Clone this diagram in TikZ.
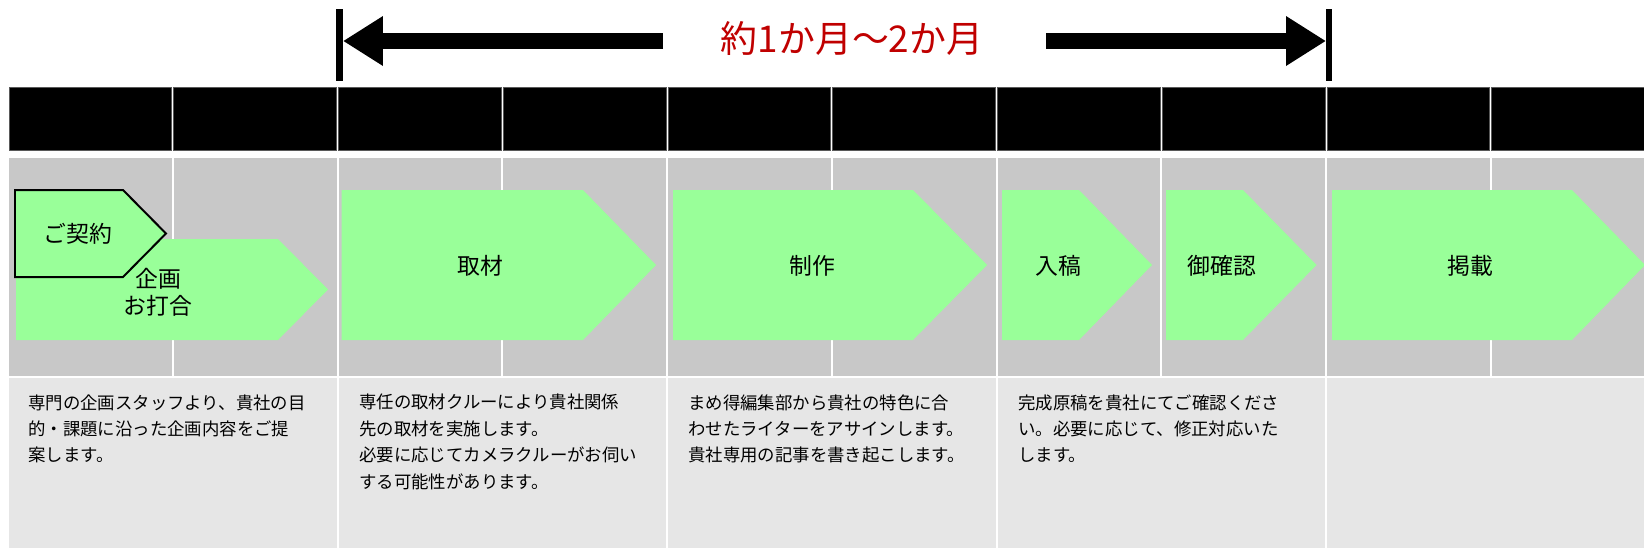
\documentclass[tikz,border=0pt]{standalone}
\usepackage{fontspec}
\setmainfont{Noto Sans CJK JP}
\usetikzlibrary{arrows.meta}
\definecolor{chevgreen}{RGB}{153,255,153}
\definecolor{cellgray}{RGB}{200,200,200}
\definecolor{notegray}{RGB}{230,230,230}
\definecolor{spanred}{RGB}{192,0,0}

\begin{document}
\begin{tikzpicture}[x=0.02cm,y=-0.02cm,
  stage/.style={font=\fontsize{13}{15.3}\selectfont,align=center,inner sep=0pt},
  note/.style={font=\fontsize{9.9}{15}\selectfont,align=left,anchor=north west,inner sep=0pt},
  chev/.style={fill=chevgreen},
  span arrow/.style={line width=0.32cm,-{Triangle[length=0.8cm,width=0.94cm]}}]
\useasboundingbox (0,0) rectangle (1644,548);
\clip (0,0) rectangle (1644,548);
\fill[white] (0,0) rectangle (1644,548);

% header row and gray row, one cell per column
\foreach \i in {0,...,9}{
  \pgfmathsetmacro{\xl}{8+\i*164.75}
  \pgfmathsetmacro{\xr}{\xl+164.75}
  \filldraw[black,draw=gray!70!black] (\xl+1,87) rectangle (\xr-1,150);
  \fill[cellgray] (\xl+1,158) rectangle (\xr-1,376);
}
% note panels, two columns each
\foreach \i in {0,...,4}{
  \pgfmathsetmacro{\xl}{8+\i*329.5}
  \fill[notegray] (\xl+1,378) rectangle (\xl+328.5,548);
}

% span on top
\draw[line width=0.13cm] (339.5,9) -- (339.5,81);
\draw[line width=0.13cm] (1329,9) -- (1329,81);
\node[font=\fontsize{21}{25}\selectfont,text=spanred] (span) at (852,38) {約1か月～2か月};
\coordinate (lstart) at (663,41);
\coordinate (lstop) at (343,41);
\coordinate (rstart) at (1046,41);
\coordinate (rstop) at (1326,41);
\draw[span arrow] (lstart) -- (lstop);
\draw[span arrow] (rstart) -- (rstop);

% chevrons
\fill[chev] (16,239) -- (278,239) -- (328,289.5) -- (278,340) -- (16,340) -- cycle;
\filldraw[chev,draw=black,line width=0.04cm] (15,190) -- (123,190) -- (166,233.5) -- (123,277) -- (15,277) -- cycle;
\fill[chev] (341.5,190) -- (583,190) -- (656,265) -- (583,340) -- (341.5,340) -- cycle;
\fill[chev] (673,190) -- (913,190) -- (987,265) -- (913,340) -- (673,340) -- cycle;
\fill[chev] (1002,190) -- (1079,190) -- (1152,265) -- (1079,340) -- (1002,340) -- cycle;
\fill[chev] (1166,190) -- (1243,190) -- (1316.5,265) -- (1243,340) -- (1166,340) -- cycle;
\fill[chev] (1332,190) -- (1572,190) -- (1645,265) -- (1572,340) -- (1332,340) -- cycle;

\node[stage] (keiyaku) at (78,234) {ご契約};
\node[stage] (kikaku) at (158,292) {企画\\お打合};
\node[stage] (shuzai) at (480,266) {取材};
\node[stage] (seisaku) at (812,266) {制作};
\node[stage] (nyuko) at (1058,266) {入稿};
\node[stage] (kakunin) at (1222,266) {御確認};
\node[stage] (keisai) at (1470,266) {掲載};

% notes
\node[note] (kikakunote) at (28,394) {専門の企画スタッフより、貴社の目\\的・課題に沿った企画内容をご提\\案します。};
\node[note] (shuzainote) at (359,394) {専任の取材クルーにより貴社関係\\先の取材を実施します。\\必要に応じてカメラクルーがお伺い\\する可能性があります。};
\node[note] (seisakunote) at (688,394) {まめ得編集部から貴社の特色に合\\わせたライターをアサインします。\\貴社専用の記事を書き起こします。};
\node[note] (kakuninnote) at (1018,394) {完成原稿を貴社にてご確認くださ\\い。必要に応じて、修正対応いた\\します。};
\end{tikzpicture}
\end{document}
